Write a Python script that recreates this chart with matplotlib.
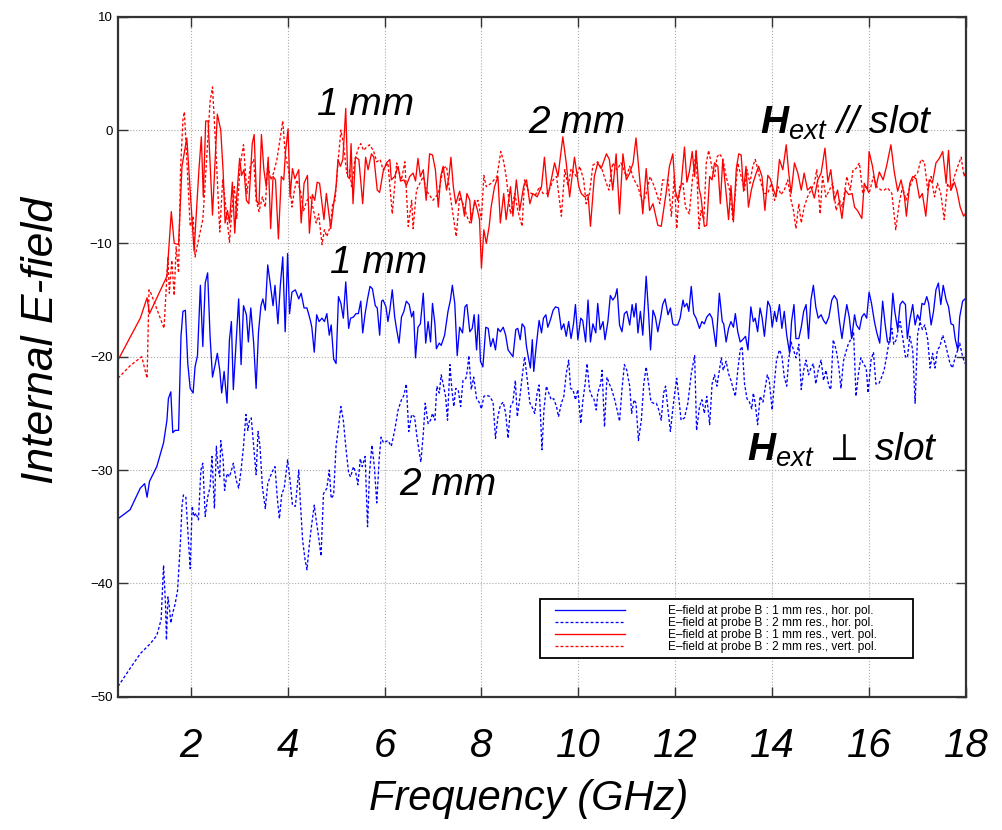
import matplotlib
matplotlib.use("Agg")
import matplotlib.pyplot as plt
from matplotlib.patches import Rectangle

plt.rcParams['font.family'] = ['Liberation Sans', 'DejaVu Sans']
plt.rcParams['mathtext.fontset'] = 'custom'
plt.rcParams['mathtext.it'] = 'Liberation Sans:style=italic'
plt.rcParams['mathtext.rm'] = 'Liberation Sans:style=italic'
plt.rcParams['mathtext.bf'] = 'Liberation Sans:style=italic:weight=bold'

# ---------------- data (frequency GHz, E-field) ----------------
# 1 mm res., vert. pol. (red solid)
red_1mm = [
    (0.50,-20.3),(0.76,-18.2),(0.96,-16.6),(1.10,-14.8),(1.15,-16.2),(1.51,-12.9),(1.60,-7.2),(1.66,-10.0),
    (1.75,-10.1),(1.82,-3.2),(1.92,-0.7),(2.07,-10.7),(2.17,-3.5),(2.22,-0.6),(2.26,-5.9),(2.31,0.8),(2.36,0.8),
    (2.45,-7.5),(2.55,1.4),(2.62,0.0),(2.67,-3.7),(2.71,-8.2),(2.76,-7.1),(2.80,-8.2),(2.86,-4.6),(2.91,-9.1),
    (2.95,-5.9),(3.01,-2.5),(3.05,-4.0),(3.10,-3.5),(3.15,-6.2),(3.20,-6.5),(3.27,-1.2),(3.31,-0.4),(3.36,-6.2),
    (3.41,-6.6),(3.46,-0.4),(3.51,-3.5),(3.56,-5.0),(3.60,-2.4),(3.65,-8.7),(3.70,-4.1),(3.75,-4.4),(3.81,-9.6),
    (3.87,-4.1),(3.92,-4.4),(3.96,-1.8),(4.01,0.1),(4.05,-5.9),(4.10,-3.4),(4.15,-4.3),(4.20,-3.8),(4.23,-3.5),
    (4.28,-8.2),(4.34,-4.7),(4.41,-4.0),(4.45,-9.1),(4.51,-5.7),(4.56,-6.2),(4.61,-4.6),(4.66,-4.7),(4.75,-7.9),
    (4.80,-5.6),(4.89,-8.7),(4.96,-6.2),(5.00,-5.0),(5.04,-2.6),(5.09,-3.2),(5.14,-2.6),(5.20,1.9),(5.24,-4.1),
    (5.28,-4.3),(5.31,-1.2),(5.35,-6.5),(5.40,-2.4),(5.47,-2.6),(5.55,-6.5),(5.61,-2.4),(5.66,-3.5),(5.73,-2.1),
    (5.78,-2.4),(5.85,-5.3),(5.90,-5.5),(5.97,-3.7),
    (6.04,-2.9),(6.11,-2.6),(6.14,-4.4),(6.21,-4.1),(6.28,-3.2),(6.33,-4.5),(6.40,-4.4),(6.45,-4.9),(6.52,-4.1),
    (6.59,-3.8),(6.64,-4.5),(6.69,-2.5),(6.74,-4.1),(6.80,-3.5),(6.86,-6.2),(6.93,-2.1),(6.99,-2.2),(7.05,-3.5),
    (7.11,-6.8),(7.16,-4.1),(7.21,-3.2),(7.28,-5.3),(7.33,-4.1),(7.37,-2.4),(7.42,-5.0),(7.47,-6.5),(7.55,-5.4),
    (7.61,-6.5),(7.65,-7.6),(7.70,-5.6),(7.76,-6.2),(7.79,-8.2),(7.86,-6.2),(7.92,-7.1),(7.96,-7.9),(8.00,-12.2),
    (8.05,-8.8),(8.10,-10.0),(8.16,-8.5),(8.20,-6.8),(8.27,-5.0),(8.34,-4.1),(8.39,-8.2),(8.46,-5.6),(8.51,-7.9),
    (8.60,-5.0),(8.65,-7.6),(8.72,-4.4),(8.79,-7.1),(8.87,-5.0),(8.93,-4.4),(9.00,-6.5),(9.06,-5.6),(9.15,-5.9),
    (9.24,-5.0),(9.30,-2.4),(9.37,-5.9),(9.44,-4.4),(9.51,-2.9),(9.58,-4.1),(9.68,-0.6),(9.75,-2.9),(9.82,-5.9),
    (9.92,-2.4),(10.01,-5.0),(10.06,-5.6),(10.13,-5.9),(10.20,-5.7),(10.25,-8.5),(10.33,-4.1),(10.40,-2.9),
    (10.47,-3.4),(10.58,-2.1),(10.64,-2.6),(10.71,-5.3),(10.78,-2.1),(10.85,-7.4),(10.92,-2.1),(10.99,-4.4),
    (11.06,-3.8),(11.13,-2.9),(11.19,-0.7),(11.26,-4.1),(11.33,-7.4),(11.40,-3.4),(11.47,-7.1),(11.54,-6.5),
    (11.64,-8.4),(11.71,-8.5),(11.81,-5.6),(11.88,-3.2),(11.95,-2.1),(12.00,-5.3),(12.05,-6.2),(12.12,-4.9),
    (12.19,-1.5),(12.24,-4.6),(12.29,-3.7),(12.35,-1.9),(12.40,-4.1),(12.43,-1.8),(12.49,-5.1),(12.53,-5.9),
    (12.60,-8.5),(12.65,-8.4),(12.71,-4.1),(12.76,-4.4),(12.81,-2.9),(12.88,-3.2),(12.93,-6.5),(12.98,-2.6),
    (13.05,-5.6),(13.10,-7.9),(13.15,-4.9),(13.20,-8.1),(13.26,-3.4),(13.31,-2.1),(13.36,-2.2),(13.41,-5.4),
    (13.46,-3.2),(13.51,-6.8),(13.57,-5.3),(13.61,-4.6),(13.67,-3.8),(13.72,-3.2),(13.79,-4.1),(13.85,-7.1),
    (13.91,-4.0),(13.96,-4.3),(14.03,-5.3),(14.08,-5.9),(14.15,-2.6),(14.22,-3.5),(14.29,-1.3),(14.34,-3.7),
    (14.39,-5.6),(14.46,-2.9),(14.53,-3.8),(14.60,-5.3),(14.66,-3.8),(14.73,-5.3),(14.80,-5.0),(14.87,-6.0),
    (14.94,-4.4),(15.01,-3.8),(15.09,-1.6),(15.15,-4.6),(15.21,-3.5),(15.28,-6.2),(15.35,-5.3),(15.44,-7.8),
    (15.51,-5.3),(15.58,-5.7),(15.65,-5.6),(15.70,-6.8),(15.76,-7.1),(15.85,-7.8),(15.90,-4.7),(15.97,-5.3),
    (16.00,-1.9),(16.07,-3.2),(16.14,-5.1),(16.21,-3.7),(16.29,-4.4),(16.36,-3.2),(16.45,-1.3),(16.52,-3.7),
    (16.59,-5.4),(16.66,-4.4),(16.73,-5.9),(16.77,-7.6),(16.84,-4.7),(16.90,-4.1),(16.97,-4.3),(17.04,-6.0),
    (17.10,-5.6),(17.17,-7.6),(17.24,-4.4),(17.31,-4.6),(17.38,-2.9),(17.45,-2.5),(17.52,-1.9),(17.59,-4.7),
    (17.64,-1.8),(17.69,-5.3),(17.76,-4.6),(17.81,-5.3),(17.88,-6.8),(17.95,-7.6),(18.00,-7.3),
]

# 2 mm res., vert. pol. (red dotted)
red_2mm = [
    (0.50,-21.9),(0.75,-20.8),(0.99,-20.0),(1.10,-21.9),(1.14,-14.1),(1.18,-14.4),(1.45,-17.5),(1.53,-11.2),
    (1.56,-14.4),(1.61,-11.5),(1.66,-14.6),(1.70,-10.3),(1.75,-12.6),(1.79,-3.5),(1.84,0.9),(1.87,1.6),
    (1.92,-2.6),(1.99,-8.5),(2.05,-7.6),(2.09,-11.2),(2.16,-9.7),(2.25,-7.9),(2.28,-6.0),(2.33,-2.4),(2.40,2.5),
    (2.45,3.8),(2.49,0.6),(2.53,-2.6),(2.60,-9.0),(2.66,-4.4),(2.71,-6.2),(2.80,-9.9),(2.85,-7.1),(2.90,-5.0),
    (2.95,-7.8),(3.02,-3.2),(3.09,-1.3),(3.16,-5.6),(3.23,-3.2),(3.30,-2.6),(3.35,-6.2),(3.41,-7.2),(3.48,-5.9),
    (3.54,-6.8),(3.59,-2.9),(3.65,-4.4),(3.71,-3.8),(3.78,-2.6),(3.90,0.8),(3.95,-2.1),(4.02,-3.5),(4.09,-6.8),
    (4.14,-5.3),(4.19,-4.4),(4.26,-5.3),(4.33,-7.1),(4.40,-6.2),(4.47,-5.9),(4.52,-6.8),(4.59,-8.2),(4.64,-7.4),
    (4.71,-10.1),(4.76,-8.8),(4.81,-9.4),(4.88,-8.5),(4.93,-6.5),(4.98,-6.2),(5.05,-2.4),(5.10,0.0),(5.15,-1.2),
    (5.22,-3.8),(5.28,-3.5),(5.32,-5.0),(5.39,-2.6),(5.46,-1.6),(5.51,-1.2),(5.57,-1.8),(5.63,-1.5),(5.69,-1.3),
    (5.77,-1.8),(5.84,-2.8),(5.91,-2.6),(5.97,-3.5),(6.07,-2.9),(6.16,-7.4),(6.25,-2.9),(6.35,-4.4),(6.42,-2.8),
    (6.49,-8.5),(6.56,-6.2),(6.59,-8.7),(6.66,-5.3),(6.80,-4.1),(6.86,-5.3),(7.00,-6.2),(7.11,-5.6),(7.21,-3.4),
    (7.28,-3.2),(7.35,-5.6),(7.48,-9.4),(7.55,-5.9),(7.62,-6.5),(7.70,-7.6),(7.76,-8.2),(7.86,-6.5),(7.93,-6.2),
    (8.00,-7.9),(8.05,-4.0),(8.10,-5.0),(8.20,-4.7),(8.32,-4.1),(8.40,-1.9),(8.46,-2.8),(8.51,-4.1),(8.60,-7.4),
    (8.69,-5.6),(8.75,-7.1),(8.84,-8.5),(8.89,-4.4),(8.96,-5.3),(9.03,-5.6),(9.12,-5.7),(9.20,-5.0),(9.27,-5.6),
    (9.37,-5.6),(9.48,-4.4),(9.55,-4.1),(9.65,-7.6),(9.72,-3.5),(9.79,-5.0),(9.85,-3.4),(9.96,-4.1),(10.03,-3.2),
    (10.11,-4.4),(10.16,-6.5),(10.23,-5.6),(10.30,-3.1),(10.40,-2.8),(10.49,-3.5),(10.58,-4.7),(10.63,-5.3),
    (10.71,-2.9),(10.80,-3.5),(10.88,-2.9),(10.99,-4.1),(11.06,-3.2),(11.14,-4.3),(11.23,-5.0),(11.33,-6.5),
    (11.40,-5.6),(11.48,-4.1),(11.57,-5.0),(11.68,-6.5),(11.74,-4.4),(11.85,-4.4),(11.92,-7.6),(11.98,-4.1),
    (12.03,-8.7),(12.09,-5.0),(12.16,-4.7),(12.21,-6.8),(12.29,-7.4),(12.36,-4.1),(12.43,-1.9),(12.49,-8.7),
    (12.53,-7.1),(12.59,-7.9),(12.64,-2.9),(12.69,-1.8),(12.76,-3.4),(12.81,-4.1),(12.86,-2.4),(12.91,-2.1),
    (12.98,-2.5),(13.05,-4.1),(13.12,-5.3),(13.19,-7.9),(13.24,-5.6),(13.29,-2.9),(13.36,-4.1),(13.43,-5.3),
    (13.48,-3.5),(13.54,-4.7),(13.60,-3.2),(13.65,-2.6),(13.70,-3.4),(13.77,-4.7),(13.84,-5.6),(13.91,-5.6),
    (13.98,-4.7),(14.05,-6.2),(14.12,-5.0),(14.18,-5.7),(14.25,-5.3),(14.32,-4.4),(14.39,-6.2),(14.44,-7.1),
    (14.49,-8.7),(14.55,-6.5),(14.60,-8.2),(14.66,-6.8),(14.73,-5.9),(14.80,-5.3),(14.87,-4.7),(14.92,-3.5),
    (14.99,-7.4),(15.04,-4.1),(15.11,-5.9),(15.18,-5.3),(15.25,-4.7),(15.32,-7.1),(15.39,-6.2),(15.45,-6.8),
    (15.54,-4.1),(15.61,-5.3),(15.67,-3.5),(15.73,-3.4),(15.80,-2.9),(15.87,-5.6),(15.94,-5.0),(16.00,-5.6),
    (16.09,-4.1),(16.16,-5.0),(16.25,-5.3),(16.31,-5.3),(16.38,-5.1),(16.47,-5.6),(16.55,-8.8),(16.62,-6.5),
    (16.69,-5.0),(16.76,-6.2),(16.84,-5.0),(16.93,-4.1),(17.00,-3.8),(17.07,-2.6),(17.14,-2.8),(17.21,-5.3),
    (17.28,-4.1),(17.35,-5.9),(17.41,-4.7),(17.48,-5.6),(17.55,-7.9),(17.62,-4.7),(17.69,-5.3),(17.76,-4.1),
    (17.83,-3.2),(17.90,-2.4),(17.96,-4.1),(18.00,-3.5),
]

# 1 mm res., hor. pol. (blue solid)
blue_1mm = [
    (0.50,-34.3),(0.75,-33.5),(0.96,-31.6),(1.05,-31.2),(1.10,-32.4),(1.15,-31.0),(1.30,-29.7),(1.44,-27.6),
    (1.51,-25.6),(1.54,-23.7),(1.59,-23.1),(1.63,-26.7),(1.68,-26.5),(1.75,-26.5),(1.80,-18.2),(1.84,-16.0),
    (1.89,-15.9),(1.94,-20.6),(1.99,-22.8),(2.05,-23.2),(2.09,-20.9),(2.14,-19.9),(2.20,-13.7),(2.25,-19.1),
    (2.30,-13.5),(2.35,-12.6),(2.40,-18.2),(2.45,-21.8),(2.51,-20.6),(2.55,-19.7),(2.60,-21.2),(2.64,-23.2),
    (2.69,-21.3),(2.75,-24.1),(2.80,-18.5),(2.84,-16.9),(2.88,-22.9),(2.94,-18.5),(2.99,-14.9),(3.04,-20.7),
    (3.09,-15.5),(3.15,-16.3),(3.19,-18.7),(3.24,-15.7),(3.30,-18.8),(3.35,-22.8),(3.40,-17.8),(3.45,-15.5),
    (3.49,-14.9),(3.54,-15.9),(3.59,-11.9),(3.64,-13.5),(3.70,-15.5),(3.74,-13.7),(3.80,-17.1),(3.85,-13.7),
    (3.90,-11.2),(3.95,-17.8),(4.00,-10.9),(4.04,-16.2),(4.09,-14.3),(4.16,-14.1),(4.23,-14.9),(4.28,-14.4),
    (4.34,-15.7),(4.40,-15.7),(4.47,-16.8),(4.50,-17.4),(4.55,-19.6),(4.60,-16.3),(4.65,-16.9),(4.71,-16.6),
    (4.76,-16.9),(4.81,-16.2),(4.86,-18.1),(4.90,-17.2),(4.95,-20.2),(5.00,-20.6),(5.05,-14.7),(5.10,-15.3),
    (5.15,-16.6),(5.20,-13.4),(5.26,-17.5),(5.30,-16.6),(5.36,-16.5),(5.41,-16.2),(5.46,-16.2),(5.51,-15.1),
    (5.55,-17.9),(5.60,-16.2),(5.65,-14.9),(5.70,-13.8),(5.75,-14.0),(5.81,-15.5),(5.85,-15.7),(5.90,-18.1),
    (5.94,-15.1),(5.97,-15.0),(6.03,-15.6),(6.07,-16.9),(6.11,-15.9),(6.16,-14.1),(6.21,-16.5),(6.25,-17.6),
    (6.30,-18.8),(6.35,-16.5),(6.40,-16.0),(6.45,-15.1),(6.51,-15.4),(6.56,-16.5),(6.60,-16.0),(6.64,-20.1),
    (6.69,-17.4),(6.74,-17.1),(6.80,-14.4),(6.85,-18.8),(6.90,-16.9),(6.95,-18.7),(6.99,-15.3),(7.04,-17.1),
    (7.07,-19.3),(7.13,-18.8),(7.17,-19.0),(7.24,-18.1),(7.31,-16.0),(7.36,-15.0),(7.40,-13.7),(7.45,-15.3),
    (7.50,-19.9),(7.55,-17.4),(7.61,-17.9),(7.66,-15.6),(7.70,-15.4),(7.76,-17.8),(7.81,-17.5),(7.85,-16.3),
    (7.90,-19.4),(7.94,-16.3),(7.98,-20.4),(8.03,-20.9),(8.09,-17.4),(8.14,-17.5),(8.19,-19.1),(8.24,-18.4),
    (8.29,-19.4),(8.34,-17.5),(8.39,-17.8),(8.45,-17.4),(8.50,-18.1),(8.55,-19.4),(8.60,-19.7),(8.65,-20.0),
    (8.71,-17.6),(8.75,-17.5),(8.80,-18.5),(8.84,-17.1),(8.89,-17.4),(8.93,-19.1),(8.97,-20.1),(9.01,-21.0),
    (9.05,-18.5),(9.08,-21.3),(9.13,-19.1),(9.19,-16.8),(9.24,-17.9),(9.28,-16.6),(9.33,-16.3),(9.37,-17.4),
    (9.42,-16.8),(9.48,-15.9),(9.53,-15.6),(9.59,-15.7),(9.65,-17.6),(9.70,-17.1),(9.75,-18.2),(9.80,-16.9),
    (9.85,-18.4),(9.90,-17.1),(9.94,-15.4),(9.99,-18.5),(10.05,-16.6),(10.09,-16.8),(10.15,-18.7),(10.20,-15.0),
    (10.25,-18.7),(10.30,-17.1),(10.36,-17.9),(10.40,-15.3),(10.45,-17.6),(10.51,-16.9),(10.55,-18.5),
    (10.61,-16.9),(10.66,-14.6),(10.71,-15.0),(10.76,-14.7),(10.80,-14.0),(10.85,-17.2),(10.90,-17.8),
    (10.95,-16.2),(11.00,-16.0),(11.06,-17.2),(11.11,-15.4),(11.15,-16.5),(11.19,-15.3),(11.23,-17.9),
    (11.28,-16.0),(11.33,-18.1),(11.40,-12.9),(11.45,-16.2),(11.49,-19.4),(11.54,-15.9),(11.59,-16.5),
    (11.64,-17.8),(11.70,-16.5),(11.74,-15.4),(11.79,-14.9),(11.85,-16.3),(11.90,-15.7),(11.95,-17.1),
    (11.98,-17.2),(12.05,-17.2),(12.10,-16.6),(12.16,-15.0),(12.19,-15.6),(12.24,-15.3),(12.28,-16.0),
    (12.33,-13.8),(12.38,-16.2),(12.43,-16.6),(12.50,-17.5),(12.55,-16.9),(12.60,-17.1),(12.65,-16.5),
    (12.71,-16.2),(12.76,-16.6),(12.84,-19.1),(12.91,-14.4),(12.97,-16.9),(13.00,-17.1),(13.05,-18.7),
    (13.10,-17.5),(13.15,-16.9),(13.20,-17.4),(13.24,-16.2),(13.29,-17.8),(13.34,-18.7),(13.39,-18.5),
    (13.45,-18.2),(13.50,-19.4),(13.56,-15.6),(13.61,-16.9),(13.65,-16.6),(13.70,-17.8),(13.75,-15.7),
    (13.79,-16.5),(13.84,-18.2),(13.91,-15.1),(13.96,-15.6),(14.00,-17.4),(14.05,-16.0),(14.09,-16.9),
    (14.15,-15.4),(14.20,-17.5),(14.25,-16.0),(14.30,-18.1),(14.36,-19.7),(14.40,-16.9),(14.45,-15.4),
    (14.49,-18.4),(14.55,-18.4),(14.60,-17.4),(14.65,-16.0),(14.70,-15.4),(14.75,-18.4),(14.80,-15.0),
    (14.85,-13.7),(14.90,-15.6),(14.95,-16.6),(15.01,-16.3),(15.06,-16.8),(15.11,-17.1),(15.17,-16.5),
    (15.23,-15.0),(15.28,-14.6),(15.34,-15.0),(15.39,-16.9),(15.44,-18.4),(15.49,-16.8),(15.54,-15.4),
    (15.59,-16.5),(15.64,-18.4),(15.70,-16.3),(15.74,-17.2),(15.80,-17.6),(15.85,-16.5),(15.90,-16.2),
    (15.95,-16.6),(16.00,-14.3),(16.05,-15.3),(16.11,-16.9),(16.16,-17.9),(16.22,-18.8),(16.28,-15.1),
    (16.33,-17.1),(16.38,-18.7),(16.43,-18.7),(16.49,-14.4),(16.53,-16.0),(16.59,-17.6),(16.64,-15.4),
    (16.69,-15.1),(16.75,-15.4),(16.79,-18.4),(16.84,-16.8),(16.90,-15.4),(16.95,-17.2),(17.00,-16.3),
    (17.05,-16.8),(17.09,-15.3),(17.14,-15.4),(17.19,-14.7),(17.23,-15.3),(17.28,-17.2),(17.33,-16.0),
    (17.38,-14.1),(17.43,-13.5),(17.48,-15.4),(17.53,-13.7),(17.59,-15.0),(17.64,-15.6),(17.69,-17.1),
    (17.74,-17.2),(17.78,-18.5),(17.83,-19.4),(17.87,-16.5),(17.93,-15.1),(17.98,-14.9),
]

# 2 mm res., hor. pol. (blue dotted)
blue_2mm = [
    (0.50,-49.1),(0.75,-47.5),(0.96,-46.2),(1.17,-45.3),(1.30,-44.6),(1.39,-43.2),(1.44,-38.4),(1.48,-41.8),
    (1.50,-45.0),(1.53,-41.2),(1.56,-42.1),(1.59,-43.5),(1.63,-42.6),(1.68,-41.8),(1.73,-40.6),(1.79,-36.2),
    (1.82,-33.2),(1.85,-32.2),(1.90,-32.4),(1.94,-35.3),(1.99,-38.7),(2.03,-33.2),(2.07,-34.1),(2.11,-33.8),
    (2.16,-34.4),(2.21,-30.0),(2.25,-29.4),(2.30,-34.1),(2.35,-32.4),(2.40,-31.5),(2.44,-28.8),(2.49,-33.4),
    (2.53,-27.9),(2.56,-29.7),(2.60,-30.6),(2.62,-27.4),(2.67,-29.1),(2.70,-31.8),(2.75,-30.3),(2.80,-30.6),
    (2.85,-29.9),(2.88,-29.4),(2.94,-30.9),(2.99,-31.6),(3.04,-30.0),(3.09,-27.9),(3.14,-25.1),(3.18,-26.5),
    (3.21,-25.7),(3.25,-25.4),(3.30,-27.9),(3.35,-30.4),(3.39,-26.6),(3.43,-27.9),(3.48,-31.5),(3.54,-33.4),
    (3.59,-31.2),(3.64,-30.6),(3.70,-30.0),(3.74,-29.7),(3.79,-32.6),(3.83,-34.3),(3.88,-32.1),(3.93,-31.6),
    (4.00,-29.1),(4.05,-30.9),(4.10,-33.1),(4.16,-33.2),(4.23,-30.0),(4.26,-32.6),(4.31,-36.2),(4.36,-37.9),
    (4.40,-38.8),(4.45,-36.5),(4.50,-34.7),(4.55,-33.1),(4.59,-34.4),(4.64,-35.9),(4.69,-37.6),(4.74,-32.1),
    (4.81,-31.6),(4.86,-30.0),(4.90,-32.5),(4.95,-32.2),(5.00,-27.9),(5.05,-26.2),(5.10,-24.4),(5.15,-25.6),
    (5.20,-27.9),(5.26,-30.3),(5.30,-30.6),(5.36,-29.7),(5.41,-30.3),(5.45,-31.3),(5.50,-29.0),(5.54,-29.7),
    (5.60,-28.8),(5.65,-35.0),(5.69,-30.3),(5.74,-27.8),(5.79,-29.7),(5.84,-32.9),(5.89,-29.0),(5.93,-27.1),
    (5.98,-27.6),(6.07,-27.4),(6.14,-27.9),(6.21,-26.5),(6.28,-24.7),(6.35,-23.8),(6.40,-23.4),(6.45,-22.4),
    (6.50,-26.6),(6.56,-25.1),(6.62,-25.3),(6.67,-27.1),(6.71,-28.2),(6.75,-29.3),(6.80,-26.8),(6.84,-24.1),
    (6.90,-25.9),(6.95,-25.6),(6.99,-25.0),(7.04,-25.6),(7.08,-22.6),(7.13,-23.2),(7.17,-21.6),(7.21,-22.4),
    (7.26,-23.5),(7.30,-25.6),(7.35,-20.7),(7.39,-22.9),(7.43,-24.4),(7.47,-22.8),(7.52,-22.9),(7.57,-24.4),
    (7.62,-22.1),(7.68,-21.9),(7.71,-21.2),(7.74,-19.9),(7.79,-22.9),(7.84,-21.8),(7.90,-23.7),(7.95,-24.0),
    (8.00,-24.6),(8.05,-23.5),(8.10,-23.4),(8.17,-23.5),(8.24,-24.0),(8.29,-27.2),(8.34,-25.3),(8.39,-24.3),
    (8.45,-24.0),(8.50,-25.0),(8.55,-27.2),(8.60,-24.4),(8.65,-24.0),(8.70,-22.1),(8.74,-25.3),(8.79,-23.7),
    (8.84,-21.8),(8.89,-20.0),(8.94,-21.8),(9.00,-24.1),(9.04,-24.4),(9.10,-25.0),(9.15,-23.2),(9.19,-22.5),
    (9.25,-28.2),(9.29,-24.7),(9.34,-22.6),(9.39,-23.2),(9.44,-23.8),(9.49,-23.7),(9.55,-24.4),(9.59,-25.3),
    (9.65,-24.1),(9.70,-23.5),(9.75,-21.5),(9.80,-20.3),(9.84,-22.8),(9.89,-22.9),(9.94,-23.8),(9.99,-22.9),
    (10.05,-25.9),(10.09,-24.0),(10.14,-22.4),(10.18,-20.6),(10.23,-22.9),(10.28,-23.5),(10.32,-23.7),
    (10.37,-24.7),(10.40,-23.2),(10.46,-22.4),(10.49,-21.2),(10.54,-26.2),(10.59,-21.8),(10.64,-22.4),
    (10.69,-22.9),(10.75,-23.8),(10.80,-24.7),(10.85,-25.7),(10.90,-22.9),(10.95,-20.7),(11.00,-21.2),
    (11.06,-22.6),(11.10,-25.0),(11.15,-23.8),(11.19,-24.1),(11.24,-27.4),(11.30,-25.6),(11.35,-22.4),
    (11.40,-20.9),(11.45,-22.4),(11.50,-24.0),(11.55,-24.1),(11.61,-24.1),(11.66,-24.7),(11.71,-25.6),
    (11.76,-23.2),(11.80,-22.6),(11.85,-24.7),(11.90,-26.6),(11.94,-25.0),(11.98,-23.5),(12.03,-21.9),
    (12.07,-23.5),(12.12,-25.6),(12.19,-25.4),(12.26,-24.1),(12.33,-21.5),(12.40,-19.9),(12.44,-26.5),
    (12.50,-24.4),(12.55,-23.8),(12.60,-25.0),(12.65,-23.5),(12.71,-26.0),(12.76,-22.4),(12.81,-21.6),
    (12.86,-22.6),(12.91,-21.2),(12.95,-20.1),(12.99,-21.2),(13.05,-20.4),(13.10,-21.5),(13.15,-22.1),
    (13.20,-22.9),(13.24,-23.5),(13.29,-21.2),(13.34,-19.4),(13.38,-19.1),(13.43,-22.4),(13.48,-23.7),
    (13.53,-24.0),(13.58,-24.6),(13.61,-23.2),(13.65,-24.1),(13.70,-26.0),(13.75,-23.5),(13.81,-24.0),
    (13.85,-22.9),(13.90,-21.6),(13.94,-22.1),(14.00,-24.7),(14.05,-22.1),(14.09,-20.3),(14.15,-19.4),
    (14.20,-19.9),(14.25,-21.8),(14.30,-22.6),(14.34,-20.3),(14.39,-18.7),(14.44,-19.4),(14.49,-20.1),
    (14.55,-18.9),(14.60,-22.9),(14.65,-21.2),(14.70,-20.3),(14.75,-21.6),(14.80,-21.0),(14.85,-20.6),
    (14.90,-22.4),(14.95,-21.2),(15.01,-20.3),(15.06,-22.1),(15.11,-21.2),(15.17,-22.6),(15.21,-22.9),
    (15.26,-18.5),(15.32,-19.4),(15.37,-20.7),(15.42,-22.8),(15.47,-20.4),(15.52,-19.6),(15.57,-18.9),
    (15.63,-18.4),(15.68,-17.9),(15.73,-23.5),(15.78,-21.5),(15.83,-20.1),(15.88,-20.6),(15.94,-21.0),
    (15.98,-23.2),(16.04,-20.3),(16.09,-19.6),(16.14,-22.4),(16.20,-22.4),(16.25,-21.9),(16.31,-21.2),
    (16.36,-20.0),(16.42,-18.5),(16.47,-17.5),(16.51,-18.9),(16.56,-18.5),(16.60,-17.6),(16.64,-16.9),
    (16.69,-18.2),(16.75,-20.0),(16.79,-20.1),(16.84,-18.2),(16.90,-19.4),(16.95,-24.1),(17.00,-18.1),
    (17.05,-16.9),(17.10,-17.6),(17.15,-17.2),(17.21,-18.5),(17.26,-21.0),(17.31,-19.7),(17.36,-21.0),
    (17.41,-19.4),(17.46,-19.1),(17.52,-18.1),(17.57,-18.8),(17.62,-19.7),(17.67,-20.6),(17.72,-21.0),
    (17.78,-20.0),(17.83,-19.4),(17.87,-18.8),(17.93,-20.0),(17.98,-20.6),
]

legend_labels = [
    "E\u2013field at probe B : 1 mm res., hor. pol.",
    "E\u2013field at probe B : 2 mm res., hor. pol.",
    "E\u2013field at probe B : 1 mm res., vert. pol.",
    "E\u2013field at probe B : 2 mm res., vert. pol.",
]
x_ticks = [2, 4, 6, 8, 10, 12, 14, 16, 18]
y_ticks = [-50, -40, -30, -20, -10, 0, 10]

# ---------------- figure ----------------
fig = plt.figure(figsize=(10.03, 8.30), dpi=100)
ax = fig.add_axes([118 / 1003, 1 - 696.7 / 830, 848 / 1003, 680 / 830])

dot = (0, (2.2, 1.6))
series = [
    (blue_1mm, '#0000ff', '-'),
    (blue_2mm, '#0000ff', dot),
    (red_1mm, '#ff0000', '-'),
    (red_2mm, '#ff0000', dot),
]
handles = []
for data, col, ls in series:
    f, v = zip(*data)
    h, = ax.plot(f, v, color=col, linestyle=ls, linewidth=0.95)
    handles.append(h)

ax.set_xlim(0.5, 18)
ax.set_ylim(-50, 10)
ax.set_xticks(x_ticks)
ax.set_yticks(y_ticks)
ax.set_xticklabels([str(t) for t in x_ticks], fontsize=29, fontstyle='italic')
ax.set_yticklabels([str(t).replace('-', '\u2212') for t in y_ticks], fontsize=9.5)
ax.tick_params(axis='both', which='both', direction='in', length=7, width=1.0,
               top=True, right=True, color='#333333')
ax.tick_params(axis='x', pad=22)
ax.tick_params(axis='y', pad=4)
ax.grid(True, linestyle=':', color='#aaaaaa', linewidth=0.8)
for s in ax.spines.values():
    s.set_linewidth(1.6)
    s.set_color('#333333')

# annotations
ann = dict(fontsize=28, fontstyle='italic', ha='left', va='baseline', color='black')
ax.text(4.60, 1.3, '1 mm', **ann)
ax.text(8.96, -0.25, '2 mm', **ann)
ax.text(4.87, -12.65, '1 mm', **ann)
ax.text(6.31, -32.2, '2 mm', **ann)
ax.text(13.74, -0.35, r'$\mathbf{H}_{ext}$ // slot', **ann)
ax.text(13.49, -29.2, r'$\mathbf{H}_{ext}$ $\perp$ slot', **ann)

# legend box
ax.add_patch(Rectangle((0.4976, 0.057), 0.4399, 0.0866, transform=ax.transAxes,
                       facecolor='white', edgecolor='black', linewidth=1.3, zorder=4))
leg = ax.legend(handles, legend_labels, loc='lower left',
                bbox_to_anchor=((557 - 118) / 848 - 0.006, 0.057 + 0.002),
                frameon=False, fontsize=8.6, handlelength=5.8, handletextpad=3.6,
                labelspacing=0.0, borderpad=0.3, borderaxespad=0.0)
leg.set_zorder(5)

fig.text(529 / 1003, 1 - 810 / 830, 'Frequency (GHz)', fontsize=30, fontstyle='italic',
         ha='center', va='baseline')
fig.text(42 / 1003, 1 - 340 / 830, 'Internal E-field', fontsize=32, fontstyle='italic',
         ha='center', va='center', rotation=90)

fig.savefig('out.png', dpi=100)
